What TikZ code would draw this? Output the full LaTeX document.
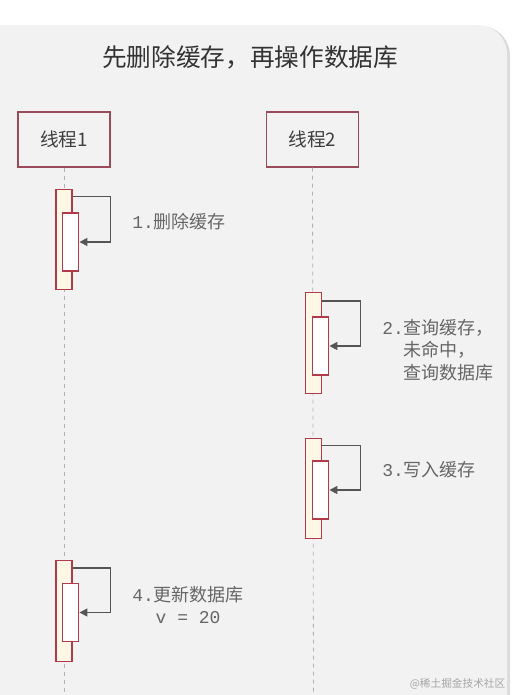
\documentclass[tikz,border=0pt]{standalone}
\usepackage{fontspec}
\setmainfont{Noto Sans CJK SC}
\newfontfamily\monofont{Liberation Mono}
\usepackage{xcolor}
\usetikzlibrary{arrows.meta,positioning,calc}

\definecolor{panelgray}{HTML}{F2F2F2}
\definecolor{edgegray}{HTML}{DCDCDC}
\definecolor{boxred}{HTML}{9A4A58}
\definecolor{barred}{HTML}{B23A4A}
\definecolor{barfill}{HTML}{FFF7E6}
\definecolor{linegray}{HTML}{555555}
\definecolor{textgray}{HTML}{666666}

\begin{document}
\begin{tikzpicture}[x=0.75pt,y=-0.75pt,
		% Style definitions
		thread/.style={
			rectangle,
			draw=boxred,
			line width=1.2pt,
			minimum width=69pt,
			minimum height=41pt,
			font=\fontsize{14}{16}\selectfont,
			text=black!75
		},
		outerbar/.style={
			rectangle,
			draw=barred,
			fill=barfill,
			line width=0.9pt,
			minimum width=12pt,
			minimum height=75.5pt,
			inner sep=0pt
		},
		innerbar/.style={
			rectangle,
			draw=barred,
			fill=white,
			line width=0.9pt,
			minimum width=12.5pt,
			minimum height=43.5pt,
			inner sep=0pt
		},
		lifeline/.style={
			dashed,
			draw=black!30,
			line width=0.6pt
		},
		selfmsg/.style={
			-{Triangle[length=6pt,width=6pt]},
			draw=linegray,
			line width=1.1pt
		},
		steplabel/.style={
			anchor=west,
			font=\fontsize{13.5}{17}\selectfont,
			text=textgray,
			inner sep=0pt
		}
		]
		\useasboundingbox (0,0) rectangle (515,695);
		% Panel
		\fill[edgegray] (2,26) [rounded corners=22pt] -- (510,26) -- (510,740) [sharp corners] -- (2,740) -- cycle;
		\fill[panelgray] (0,25) [rounded corners=22pt] -- (507,25) -- (507,740) [sharp corners] -- (0,740) -- cycle;
		
		% Title
		\node[font=\fontsize{18.5}{20}\selectfont, text=black!80] (title) at (250,57) {先删除缓存，再操作数据库};
		
		% Threads
		\node[thread] (t1) at (64,139.5) {线程1};
		\node[thread] (t2) at (312.5,139.5) {线程2};
		\coordinate (e1) at (64,695);
		\coordinate (e2) at (313.5,695);
		\draw[lifeline] (t1.south) -- (e1);
		\draw[lifeline] (t2.south) -- (e2);
		
		% Activation bars
		\node[outerbar] (o1) at (64,239.5) {};
		\node[innerbar] (i1) at (70.5,242) {};
		\node[outerbar] (o2) at (313.5,343) {};
		\node[innerbar] (i2) at (320.5,346) {};
		\node[outerbar] (o3) at (313.5,488.5) {};
		\node[innerbar] (i3) at (320.5,490) {};
		\node[outerbar] (o4) at (64,611) {};
		\node[innerbar] (i4) at (70.5,612.5) {};
		
		% Self calls
		\draw[selfmsg] ($(o1.north east)+(0,8)$) -| ($(i1.east)+(31,0)$) -- (i1.east);
		\draw[selfmsg] ($(o2.north east)+(0,9)$) -| ($(i2.east)+(31,0)$) -- (i2.east);
		\draw[selfmsg] ($(o3.north east)+(0,8)$) -| ($(i3.east)+(31,0)$) -- (i3.east);
		\draw[selfmsg] ($(o4.north east)+(0,8)$) -| ($(i4.east)+(31,0)$) -- (i4.east);
		
		% Step labels
		\node[steplabel] (s1) at (132,222) {{\monofont 1.}删除缓存};
		\node[steplabel, align=left] (s2) at (382,350) {{\monofont 2.}查询缓存，\\{\monofont\phantom{2.}}未命中，\\{\monofont\phantom{2.}}查询数据库};
		\node[steplabel] (s3) at (382,470) {{\monofont 3.}写入缓存};
		\node[steplabel, align=center] (s4) at (132,605) {{\monofont 4.}更新数据库\\{\monofont v = 20}};
		
		% Watermark
		\node[anchor=east, font=\fontsize{8}{9}\selectfont, text=black!35] (wm) at (510,684) {@稀土掘金技术社区};
	\end{tikzpicture}
\end{document}
